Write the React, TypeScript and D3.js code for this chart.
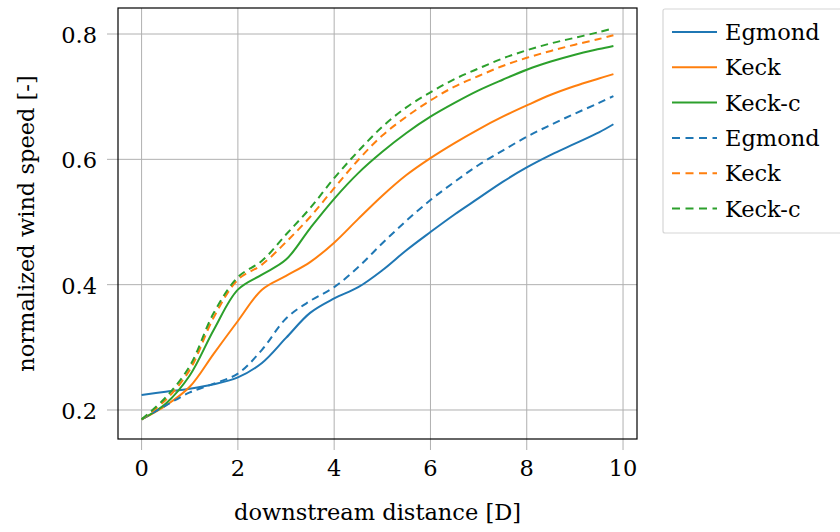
import React from "react";
import * as d3 from "d3";

const xs = [0, 0.5, 1, 1.5, 2, 2.5, 3, 3.5, 4, 4.5, 5, 5.5, 6, 6.5, 7, 7.5, 8, 8.5, 9, 9.5, 9.8];

const egmondSolid = [0.224, 0.229, 0.234, 0.241, 0.252, 0.275, 0.315, 0.355, 0.378, 0.396, 0.423, 0.455, 0.484, 0.512, 0.538, 0.564, 0.587, 0.607, 0.625, 0.643, 0.656];
const keckSolid = [0.185, 0.207, 0.237, 0.29, 0.342, 0.392, 0.414, 0.436, 0.467, 0.505, 0.542, 0.575, 0.602, 0.626, 0.648, 0.668, 0.686, 0.703, 0.717, 0.729, 0.736];
const keckCSolid = [0.185, 0.21, 0.255, 0.328, 0.392, 0.416, 0.44, 0.49, 0.537, 0.578, 0.612, 0.642, 0.668, 0.69, 0.71, 0.727, 0.743, 0.756, 0.767, 0.776, 0.781];
const egmondDashed = [0.185, 0.207, 0.228, 0.242, 0.258, 0.296, 0.346, 0.374, 0.396, 0.428, 0.466, 0.502, 0.535, 0.564, 0.591, 0.614, 0.636, 0.655, 0.673, 0.69, 0.701];
const keckDashed = [0.185, 0.216, 0.264, 0.348, 0.408, 0.432, 0.468, 0.508, 0.554, 0.599, 0.638, 0.668, 0.694, 0.716, 0.733, 0.749, 0.762, 0.773, 0.783, 0.792, 0.798];
const keckCDashed = [0.185, 0.22, 0.27, 0.355, 0.412, 0.438, 0.48, 0.522, 0.57, 0.613, 0.652, 0.683, 0.707, 0.728, 0.745, 0.761, 0.774, 0.785, 0.794, 0.803, 0.809];

const xTicks = [0, 2, 4, 6, 8, 10];
const yTicks = [0.2, 0.4, 0.6, 0.8];

const seriesNames = ["Egmond", "Keck", "Keck-c", "Egmond", "Keck", "Keck-c"];
const seriesValues = [egmondSolid, keckSolid, keckCSolid, egmondDashed, keckDashed, keckCDashed];
const seriesColors = ["#1f77b4", "#ff7f0e", "#2ca02c", "#1f77b4", "#ff7f0e", "#2ca02c"];
const seriesDashed = [false, false, false, true, true, true];

export default function App() {
  const W = 840, H = 532;
  const left = 118, right = 637, top = 8, bottom = 439;
  const x = d3.scaleLinear().domain([-0.49, 10.29]).range([left, right]);
  const y = d3.scaleLinear().domain([0.1537, 0.8415]).range([bottom, top]);
  const line = d3
    .line<[number, number]>()
    .x((d) => x(d[0]))
    .y((d) => y(d[1]))
    .curve(d3.curveCatmullRom.alpha(0.5));
  const font = "'DejaVu Serif', serif";
  const fs = 22.5;
  const grid = "#b0b0b0";
  const legX = 663, legY = 9, legRow = 35.3;

  return (
    <svg width={W} height={H} style={{ position: "absolute", left: 0, top: 0, fontFamily: font }}>
      <rect x={0} y={0} width={W} height={H} fill="#fff" />
      <defs>
        <clipPath id="plotclip">
          <rect x={left} y={top} width={right - left} height={bottom - top} />
        </clipPath>
      </defs>
      {xTicks.map((t) => (
        <g key={"xt" + t}>
          <line x1={x(t)} x2={x(t)} y1={top} y2={bottom + 11} stroke={grid} strokeWidth={1} />
          <text x={x(t)} y={476} fontSize={fs} textAnchor="middle" fill="#000" style={{ fontFamily: font }}>{t}</text>
        </g>
      ))}
      {yTicks.map((t) => (
        <g key={"yt" + t}>
          <line x1={left - 11} x2={right} y1={y(t)} y2={y(t)} stroke={grid} strokeWidth={1} />
          <text x={97} y={y(t) + 9} fontSize={fs} textAnchor="end" fill="#000" style={{ fontFamily: font }}>{t.toFixed(1)}</text>
        </g>
      ))}
      <g clipPath="url(#plotclip)">
        {seriesValues.map((vals, i) => (
          <path
            key={"s" + i}
            d={line(xs.map((xv, j) => [xv, vals[j]] as [number, number])) || ""}
            fill="none"
            stroke={seriesColors[i]}
            strokeWidth={2}
            strokeDasharray={seriesDashed[i] ? "7.5,5" : undefined}
          />
        ))}
      </g>
      <rect x={left} y={top} width={right - left} height={bottom - top} fill="none" stroke="#000" strokeWidth={1.2} />
      <text x={(left + right) / 2} y={520} fontSize={fs} textAnchor="middle" fill="#000" style={{ fontFamily: font }}>downstream distance [D]</text>
      <text transform={`translate(34, ${(top + bottom) / 2}) rotate(-90)`} fontSize={fs} textAnchor="middle" fill="#000" style={{ fontFamily: font }}>normalized wind speed [-]</text>
      <rect x={legX} y={legY} width={W - legX + 10} height={224} fill="#fff" stroke="#d6d6d6" strokeWidth={1.2} rx={2} />
      {seriesNames.map((n, i) => (
        <g key={"lg" + i}>
          <line
            x1={672}
            x2={717}
            y1={legY + 23 + i * legRow}
            y2={legY + 23 + i * legRow}
            stroke={seriesColors[i]}
            strokeWidth={2}
            strokeDasharray={seriesDashed[i] ? "8,5.5" : undefined}
          />
          <text x={725} y={legY + 31 + i * legRow} fontSize={fs} fill="#000" style={{ fontFamily: font }}>{n}</text>
        </g>
      ))}
    </svg>
  );
}
